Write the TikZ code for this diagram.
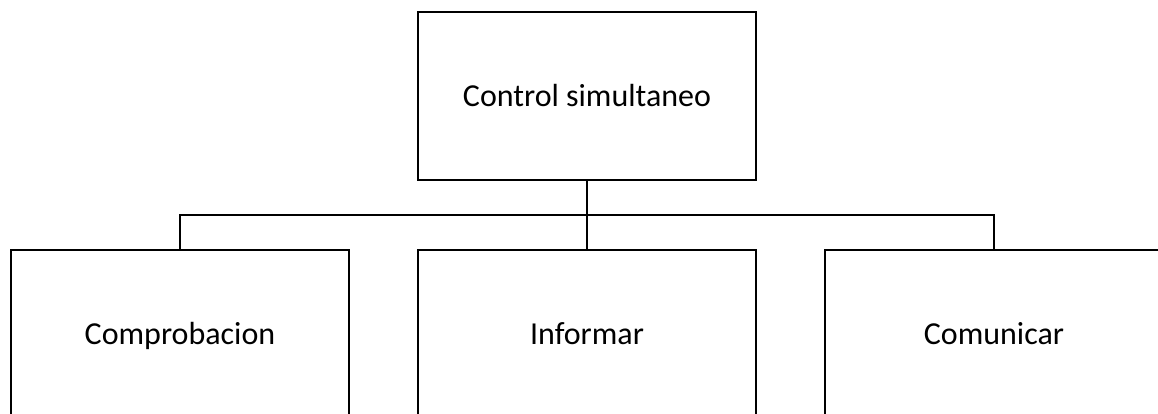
\documentclass[tikz,border=0pt]{standalone}
\usepackage{fontspec}
\setmainfont{Carlito}
\begin{document}
\begin{tikzpicture}[x=1pt,y=1pt,
  box/.style={draw=black,line width=2.6pt,rectangle,minimum width=338pt,minimum height=168pt,inner sep=0pt,text height=26pt,text depth=4pt,font=\fontsize{32}{38}\selectfont},
  conn/.style={draw=black,line width=2.6pt}]
\useasboundingbox (0,0) rectangle (1158,414);
\clip (0,0) rectangle (1158,414);
\node[box] (top) at (587,318) {Control simultaneo};
\node[box] (left) at (180,80) {Comprobacion};
\node[box] (mid) at (587,80) {Informar};
\node[box] (right) at (994,80) {Comunicar};
\coordinate (bus) at (587,199);
\draw[conn] (top.south) -- (mid.north);
\draw[conn] (left.north) -- (left.north |- bus) -- (right.north |- bus) -- (right.north);
\end{tikzpicture}
\end{document}
